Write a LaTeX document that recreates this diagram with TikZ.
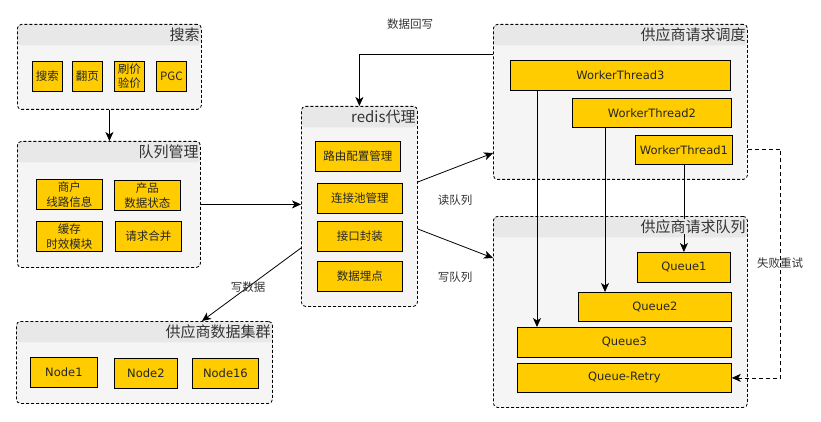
\documentclass[tikz,border=0pt]{standalone}
\usepackage{fontspec}
\setmainfont{DejaVu Sans}
\newfontfamily\cjk{Noto Sans CJK SC}
\usetikzlibrary{arrows.meta,calc}
\definecolor{boxyellow}{HTML}{FFCC00}
\definecolor{contfill}{HTML}{F5F5F5}
\definecolor{hdrfill}{HTML}{E8E8E8}
\definecolor{txtgray}{HTML}{333333}
\tikzset{
  container/.style={draw=black, dashed, dash pattern=on 3pt off 2pt, line width=0.8pt,
    rounded corners=4pt, fill=contfill, anchor=north west, inner sep=0pt,
    path picture={\fill[hdrfill] (path picture bounding box.north west) rectangle ([yshift=-21pt]path picture bounding box.north east);}},
  ctitle/.style={anchor=east, font=\cjk\fontsize{15}{17}\selectfont, text=txtgray, inner sep=0pt},
  ybox/.style={draw=black, line width=0.8pt, fill=boxyellow, anchor=north west, inner sep=0pt,
    align=center, text=black!85, font=\cjk\fontsize{11.5}{14.5}\selectfont},
  lbox/.style={ybox, font=\fontsize{11.5}{14}\selectfont},
  arr/.style={line width=0.8pt, -{Stealth[length=9pt,width=8pt,inset=2.5pt]}},
  lbl/.style={font=\cjk\fontsize{11.5}{14}\selectfont, text=txtgray, inner sep=0pt}
}
\begin{document}
\begin{tikzpicture}[x=1pt,y=-1pt]
\useasboundingbox[fill=white] (0,0) rectangle (821,422);
% containers
\node[container, minimum width=184pt, minimum height=85pt] (c1) at (17,24) {};
\node[container, minimum width=183pt, minimum height=126pt] (c2) at (17,141) {};
\node[container, minimum width=116pt, minimum height=200pt] (c3) at (301,106) {};
\node[container, minimum width=254pt, minimum height=155pt] (c4) at (493,24) {};
\node[container, minimum width=254pt, minimum height=191pt] (c5) at (493,216) {};
\node[container, minimum width=256pt, minimum height=82pt] (c6) at (16,321) {};
% boxes
\node[ybox, minimum width=30pt, minimum height=30pt] (s1) at (32,61) {搜索};
\node[ybox, minimum width=30pt, minimum height=30pt] (s2) at (72,61) {翻页};
\node[ybox, minimum width=30pt, minimum height=30pt] (s3) at (114,61) {刷价\\验价};
\node[ybox, minimum width=30pt, minimum height=30pt] (s4) at (156,61) {PGC};
\node[ybox, minimum width=66pt, minimum height=30pt] (q1) at (36,179) {商户\\线路信息};
\node[ybox, minimum width=66pt, minimum height=30pt] (q2) at (114,180) {产品\\数据状态};
\node[ybox, minimum width=66pt, minimum height=30pt] (q3) at (36,221) {缓存\\时效模块};
\node[ybox, minimum width=66pt, minimum height=30pt] (q4) at (115,221) {请求合并};
\node[ybox, minimum width=85pt, minimum height=30pt] (r1) at (315,141) {路由配置管理};
\node[ybox, minimum width=85pt, minimum height=30pt] (r2) at (317,183) {连接池管理};
\node[ybox, minimum width=85pt, minimum height=30pt] (r3) at (317,221) {接口封装};
\node[ybox, minimum width=85pt, minimum height=30pt] (r4) at (317,261) {数据埋点};
\node[lbox, minimum width=220pt, minimum height=30pt] (w3) at (510,60) {WorkerThread3};
\node[lbox, minimum width=159pt, minimum height=29pt] (w2) at (572,98) {WorkerThread2};
\node[lbox, minimum width=97pt, minimum height=29pt] (w1) at (635,135) {WorkerThread1};
\node[lbox, minimum width=93pt, minimum height=30pt] (qu1) at (637,252) {Queue1};
\node[lbox, minimum width=153pt, minimum height=29pt] (qu2) at (578,292) {Queue2};
\node[lbox, minimum width=214pt, minimum height=30pt] (qu3) at (517,327) {Queue3};
\node[lbox, minimum width=214pt, minimum height=29pt] (qur) at (517,363) {Queue-Retry};
\node[lbox, minimum width=67pt, minimum height=30pt] (n1) at (30,357) {Node1};
\node[lbox, minimum width=63pt, minimum height=30pt] (n2) at (114,358) {Node2};
\node[lbox, minimum width=66pt, minimum height=30pt] (n16) at (192,358) {Node16};
% connectors
\draw[arr] (c1.south) -- (c1.south |- c2.north);
\draw[arr] (c2.east) -- (c2.east -| c3.west);
\draw[arr] ($(c3.north west)+(0,142)$) coordinate (wd1) -- ($(c6.north west)+(186,0)$) coordinate (wd2);
\draw[arr] ($(c4.north west)+(0,30)$) -| (c3.north);
\draw[arr] ($(c3.north east)+(0,76)$) -- ($(c4.north west)+(0,129)$);
\draw[arr] ($(c3.north east)+(0,123)$) -- ($(c5.north west)+(0,42)$);
\draw[arr] ($(w3.south west)+(27,0)$) coordinate (a3) -- (a3 |- qu3.north);
\draw[arr] ($(w2.south west)+(33,0)$) coordinate (a2) -- (a2 |- qu2.north);
\draw[arr] (w1.south) -- (w1.south |- qu1.north);
\draw[arr, dashed, dash pattern=on 4pt off 3pt] ($(c4.north east)+(0,125)$) -- ++(33,0) |- (qur.east);
% titles
\node[ctitle] (t1) at ($(c1.north east)+(-2,10.5)$) {搜索};
\node[ctitle] (t2) at ($(c2.north east)+(-2,10.5)$) {队列管理};
\node[ctitle] (t3) at ($(c3.north east)+(-2,10.5)$) {redis代理};
\node[ctitle] (t4) at ($(c4.north east)+(-2,10.5)$) {供应商请求调度};
\node[ctitle, fill=hdrfill] (t5) at ($(c5.north east)+(-2,10.5)$) {供应商请求队列};
\node[ctitle] (t6) at ($(c6.north east)+(-2,10.5)$) {供应商数据集群};
% labels
\node[lbl] (l1) at (410,24) {数据回写};
\node[lbl] (l2) at (455,200) {读队列};
\node[lbl] (l3) at (455,277) {写队列};
\node[lbl] (l4) at (248,287) {写数据};
\node[lbl] (l5) at (780,263) {失败重试};
\end{tikzpicture}
\end{document}
